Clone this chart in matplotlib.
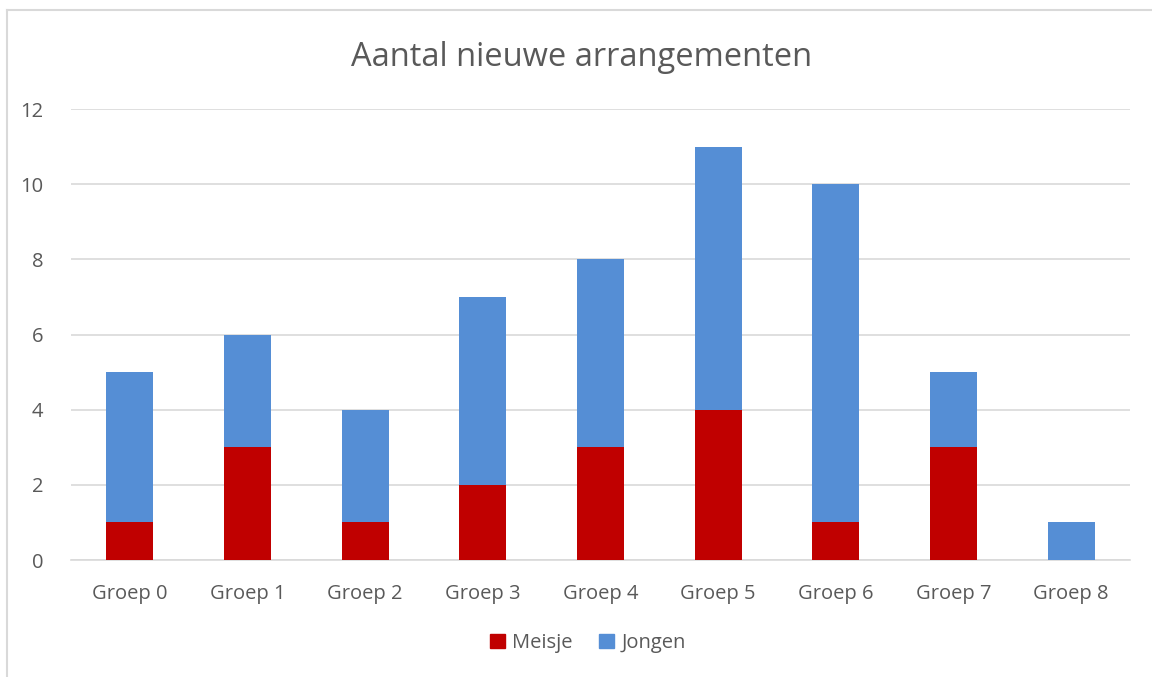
import matplotlib
matplotlib.use("Agg")
import matplotlib.pyplot as plt
from matplotlib.lines import Line2D
from matplotlib.patches import Patch

categories = ["Groep 0", "Groep 1", "Groep 2", "Groep 3", "Groep 4", "Groep 5", "Groep 6", "Groep 7", "Groep 8"]
meisje = [1, 3, 1, 2, 3, 4, 1, 3, 0]
jongen = [4, 3, 3, 5, 5, 7, 9, 2, 1]
yticks = [0, 2, 4, 6, 8, 10, 12]

RED = "#C00000"
BLUE = "#558ED5"
TXT = "#595959"
GRID = "#D9D9D9"

plt.rcParams['font.family'] = ['Open Sans', 'DejaVu Sans']

fig = plt.figure(figsize=(11.52, 6.77), dpi=100)
ax = fig.add_axes([71/1152, 1 - 560/677, (1130 - 71)/1152, (560 - 109)/677])

x = list(range(len(categories)))
ax.bar(x, meisje, width=0.4, color=RED, label="Meisje", zorder=3)
ax.bar(x, jongen, width=0.4, bottom=meisje, color=BLUE, label="Jongen", zorder=3)

ax.set_xlim(-0.5, len(categories) - 0.5)
ax.set_ylim(0, 12)
ax.set_yticks(yticks)
ax.set_xticks(x)
ax.set_xticklabels(categories)
ax.tick_params(axis='both', length=0, colors=TXT, labelsize=14.5)
ax.tick_params(axis='y', pad=20)
ax.tick_params(axis='x', pad=17)
ax.grid(axis='y', color=GRID, linewidth=1.2, zorder=0)
for s in ["top", "right", "left"]:
    ax.spines[s].set_visible(False)
ax.spines["bottom"].set_color(GRID)
ax.spines["bottom"].set_linewidth(1.2)

fig.text(582/1152, 1 - 57/677, "Aantal nieuwe arrangementen", ha="center", va="center",
         fontsize=23.5, color=TXT)

handles = [Patch(color=RED, label="Meisje"), Patch(color=BLUE, label="Jongen")]
fig.legend(handles=handles, loc="center", bbox_to_anchor=(588/1152, 1 - 643/677), ncol=2,
           frameon=False, fontsize=14.5, labelcolor=TXT, handlelength=0.75, handleheight=0.75,
           handletextpad=0.35, columnspacing=1.3)

# chart border (left and top, as visible)
fig.add_artist(Line2D([7/1152, 7/1152], [0, 1 - 10/677], transform=fig.transFigure, color=GRID, linewidth=1.5))
fig.add_artist(Line2D([7/1152, 1], [1 - 10/677, 1 - 10/677], transform=fig.transFigure, color=GRID, linewidth=1.5))

fig.savefig("out.png", dpi=100, facecolor="white")
